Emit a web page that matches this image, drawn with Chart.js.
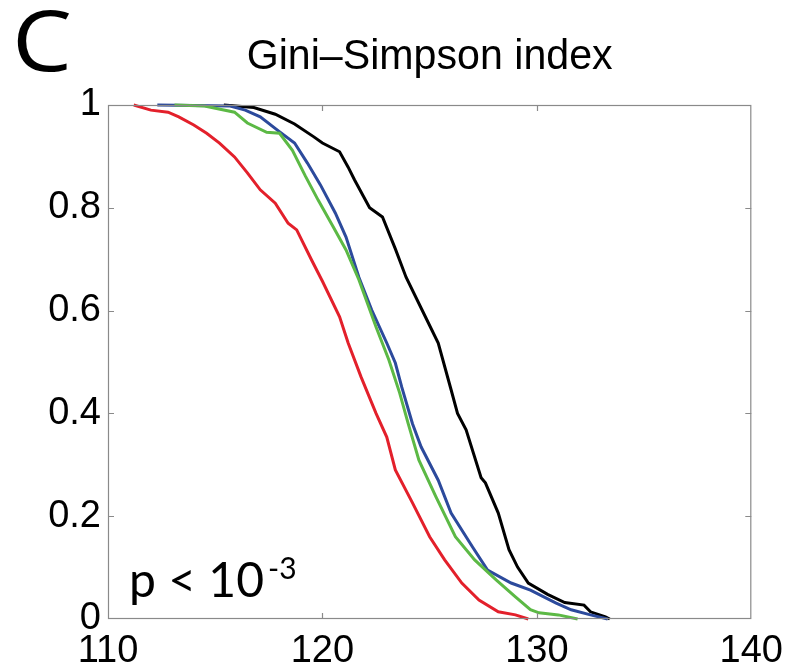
<!DOCTYPE html>
<html>
<head>
<meta charset="utf-8">
<script src="https://cdn.jsdelivr.net/npm/chart.js@4.4.1/dist/chart.umd.min.js"></script>
<style>
  html, body { margin: 0; padding: 0; background: #ffffff; }
  #wrap { width: 793px; height: 671px; position: relative; }
  canvas { display: block; }
</style>
</head>
<body>
<div id="wrap"><canvas id="chart" width="793" height="671"></canvas></div>
<script>
// ---- Data (survival-type curves) ----
const xTickValues = [110, 120, 130, 140];
const xTickLabels = ['110', '120', '130', '140'];
const yTickValues = [0, 0.2, 0.4, 0.6, 0.8, 1];
const yTickLabels = ['0', '0.2', '0.4', '0.6', '0.8', '1'];

const blackX = [115.4, 116.8, 117.8, 118.7, 119.6, 120.0, 120.8, 121.2, 121.5, 122.2, 122.8, 123.4, 123.9, 124.8, 125.4, 126.0, 126.3, 126.7, 127.4, 127.6, 128.2, 128.7, 129.1, 129.6, 130.5, 131.3, 132.2, 132.5, 133.2, 133.4];
const blackY = [1, 0.995, 0.982, 0.963, 0.938, 0.926, 0.909, 0.879, 0.854, 0.80, 0.782, 0.72, 0.665, 0.588, 0.537, 0.446, 0.40, 0.368, 0.275, 0.265, 0.206, 0.135, 0.101, 0.07, 0.048, 0.032, 0.027, 0.014, 0.004, 0];

const blueX = [112.3, 115.7, 116.4, 117.1, 117.9, 118.7, 119.3, 119.9, 120.6, 121.1, 121.7, 122.3, 123.0, 123.4, 123.7, 124.2, 124.6, 125.4, 126.0, 127.0, 127.7, 128.8, 129.7, 130.9, 131.6, 132.5, 133.3];
const blueY = [1, 0.998, 0.99, 0.977, 0.951, 0.926, 0.887, 0.845, 0.79, 0.743, 0.665, 0.601, 0.537, 0.498, 0.451, 0.38, 0.335, 0.27, 0.206, 0.14, 0.095, 0.07, 0.056, 0.031, 0.018, 0.008, 0];

const greenX = [113.1, 114.5, 115.9, 116.5, 117.4, 118.0, 118.6, 119.2, 119.8, 120.5, 121.1, 121.7, 122.5, 123.1, 123.6, 124.0, 124.5, 125.3, 126.2, 127.1, 128.1, 129.0, 129.7, 130.1, 131.0, 131.9];
const greenY = [1, 0.998, 0.986, 0.965, 0.947, 0.945, 0.912, 0.862, 0.815, 0.763, 0.718, 0.66, 0.568, 0.504, 0.44, 0.38, 0.309, 0.237, 0.16, 0.115, 0.076, 0.043, 0.018, 0.012, 0.008, 0];

const redX = [111.2, 112.0, 112.8, 113.3, 114.0, 114.6, 115.2, 115.9, 116.5, 117.1, 117.8, 118.4, 118.8, 119.5, 120.0, 120.8, 121.2, 121.8, 122.5, 123.0, 123.4, 124.2, 125.0, 125.7, 126.5, 127.3, 128.2, 129.0, 129.6];
const redY = [1, 0.99, 0.986, 0.977, 0.961, 0.945, 0.926, 0.899, 0.868, 0.835, 0.809, 0.770, 0.757, 0.698, 0.657, 0.588, 0.537, 0.471, 0.40, 0.354, 0.29, 0.226, 0.160, 0.115, 0.070, 0.037, 0.014, 0.008, 0];

const panelLetter = 'C';
const chartTitle = 'Gini\u2013Simpson index';
const pText = 'p < 10';
const pExp = '-3';

function pts(xs, ys) { return xs.map((x, i) => ({ x: x, y: ys[i] })); }

const lineDefaults = { showLine: true, pointRadius: 0, borderWidth: 3, fill: false, tension: 0, clip: 6 };

const decor = {
  id: 'decor',
  afterDraw(chart) {
    const ctx = chart.ctx;
    const a = chart.chartArea;
    const xs = chart.scales.x, ys = chart.scales.y;
    ctx.save();
    // box
    ctx.strokeStyle = '#8a8a8a';
    ctx.lineWidth = 1.2;
    ctx.strokeRect(a.left + 0.5, a.top + 0.5, a.right - a.left - 1, a.bottom - a.top - 1);
    // inward ticks
    const tl = 6;
    ctx.beginPath();
    xTickValues.forEach(v => {
      const px = Math.round(xs.getPixelForValue(v)) + 0.5;
      if (v === xs.min || v === xs.max) return;
      ctx.moveTo(px, a.bottom); ctx.lineTo(px, a.bottom - tl);
      ctx.moveTo(px, a.top); ctx.lineTo(px, a.top + tl);
    });
    yTickValues.forEach(v => {
      const py = Math.round(ys.getPixelForValue(v)) + 0.5;
      if (v === ys.min || v === ys.max) return;
      ctx.moveTo(a.left, py); ctx.lineTo(a.left + tl, py);
      ctx.moveTo(a.right, py); ctx.lineTo(a.right - tl, py);
    });
    ctx.stroke();

    // panel letter
    ctx.fillStyle = '#000';
    ctx.textBaseline = 'alphabetic';
    ctx.textAlign = 'left';
    ctx.font = '84px "Open Sans", Lato, "Liberation Sans", sans-serif';
    const cw = ctx.measureText(panelLetter).width;
    ctx.save();
    ctx.translate(12, 71);
    ctx.scale(60 / cw, 1);
    ctx.fillText(panelLetter, 0, 0);
    ctx.restore();

    // title (condensed)
    ctx.font = '42px "Liberation Sans", Arial, sans-serif';
    const tw = ctx.measureText(chartTitle).width;
    const targetW = 366;
    const cx = (a.left + a.right) / 2;
    ctx.save();
    ctx.translate(cx - targetW / 2, 69);
    ctx.scale(targetW / tw, 1);
    ctx.fillText(chartTitle, 0, 0);
    ctx.restore();

    // p-value annotation
    ctx.font = '48px Lato, "Open Sans", sans-serif';
    const px0 = 129, base = 597;
    ctx.fillText(pText, px0, base);
    const w1 = ctx.measureText(pText).width;
    ctx.font = '30px Lato, "Open Sans", sans-serif';
    ctx.fillText(pExp, px0 + w1 + 4, base - 18);
    ctx.restore();
  }
};

new Chart(document.getElementById('chart'), {
  type: 'scatter',
  data: {
    datasets: [
      Object.assign({ label: 'red', data: pts(redX, redY), borderColor: '#e3202b' }, lineDefaults),
      Object.assign({ label: 'green', data: pts(greenX, greenY), borderColor: '#5cb945' }, lineDefaults),
      Object.assign({ label: 'blue', data: pts(blueX, blueY), borderColor: '#2c4a9c' }, lineDefaults),
      Object.assign({ label: 'black', data: pts(blackX, blackY), borderColor: '#000000' }, lineDefaults)
    ]
  },
  options: {
    responsive: false,
    animation: false,
    devicePixelRatio: 1,
    layout: { padding: { top: 105, right: 39, left: 0, bottom: 0 } },
    plugins: { legend: { display: false }, tooltip: { enabled: false }, title: { display: false } },
    scales: {
      x: {
        type: 'linear', min: 110, max: 140,
        afterBuildTicks(scale) { scale.ticks = xTickValues.map(v => ({ value: v })); },
        afterFit(scale) { scale.height = 52; },
        grid: { display: false, drawTicks: false },
        border: { display: false },
        ticks: {
          autoSkip: false, maxRotation: 0, padding: 10, color: '#000',
          font: { family: '"Liberation Sans", Arial, sans-serif', size: 38 },
          callback(v) { const i = xTickValues.indexOf(v); return i >= 0 ? xTickLabels[i] : ''; }
        }
      },
      y: {
        type: 'linear', min: 0, max: 1,
        afterBuildTicks(scale) { scale.ticks = yTickValues.map(v => ({ value: v })); },
        afterFit(scale) { scale.width = 108; },
        grid: { display: false, drawTicks: false },
        border: { display: false },
        ticks: {
          autoSkip: false, padding: 7, color: '#000',
          font: { family: '"Liberation Sans", Arial, sans-serif', size: 38 },
          callback(v) { const i = yTickValues.indexOf(v); return i >= 0 ? yTickLabels[i] : ''; }
        }
      }
    }
  },
  plugins: [decor]
});
</script>
</body>
</html>
